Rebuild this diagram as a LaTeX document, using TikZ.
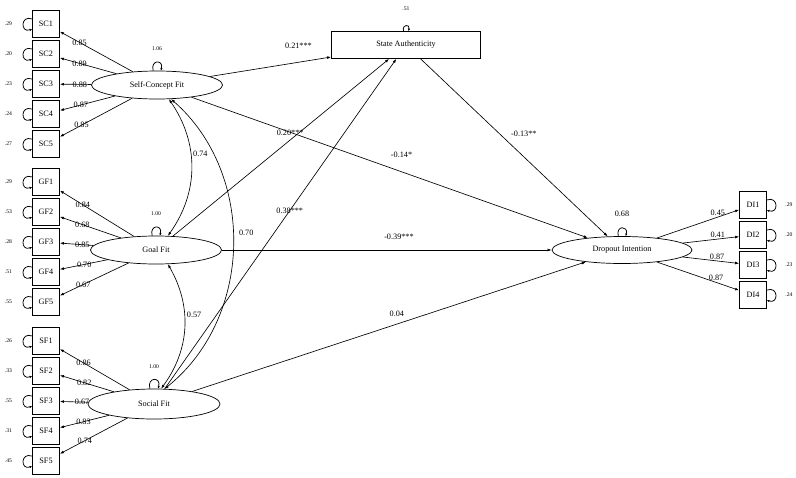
\documentclass[tikz,border=0pt]{standalone}
\usepackage{fontspec}
\setmainfont{Liberation Serif}
\usepackage{tikz}
\usetikzlibrary{positioning, shapes.geometric, arrows.meta}

\begin{document}
\begin{tikzpicture}[
            x=0.03cm, y=0.03cm,
            node distance=0.07cm,
            ind/.style={draw, line width=0.6pt, minimum width=0.81cm, minimum height=0.81cm, inner sep=0pt, font=\fontsize{7}{8}\selectfont},
            latent/.style={draw, ellipse, line width=0.6pt, minimum width=3.93cm, minimum height=0.84cm, inner sep=0pt, font=\fontsize{7}{8}\selectfont},
            sabox/.style={draw, line width=0.6pt, minimum width=4.47cm, minimum height=0.81cm, inner sep=0pt, font=\fontsize{7}{8}\selectfont},
            arrow/.style={-{Latex[length=3.5pt,width=2.4pt]}, line width=0.55pt},
            cov/.style={{Latex[length=3.5pt,width=2.4pt]}-{Latex[length=3.5pt,width=2.4pt]}, line width=0.55pt},
            resloop/.style={-{Latex[length=2.2pt,width=2pt]}, line width=0.65pt},
            lbl/.style={font=\fontsize{7}{8}\selectfont, inner sep=0pt},
            varlbl/.style={font=\fontsize{4.8}{5}\selectfont, inner sep=0pt}
        ]
            \useasboundingbox (0,0) rectangle (796,-477);

            \node[latent] (scf) at (157,-85) {Self-Concept Fit};
            \node[latent] (gf) at (156,-250) {Goal Fit};
            \node[latent, minimum width=3.96cm, minimum height=0.9cm] (sf) at (154,-404) {Social Fit};
            \node[sabox] (sa) at (406,-45) {State Authenticity};
            \node[latent, minimum width=4.2cm, minimum height=0.81cm] (di) at (622,-250) {Dropout Intention};

            \node[ind] (sc1) at (46,-24) {SC1};
            \node[ind, below=of sc1] (sc2) {SC2};
            \node[ind, below=of sc2] (sc3) {SC3};
            \node[ind, below=of sc3] (sc4) {SC4};
            \node[ind, below=of sc4] (sc5) {SC5};

            \node[ind] (gf1) at (46,-182) {GF1};
            \node[ind, below=of gf1] (gf2) {GF2};
            \node[ind, below=of gf2] (gf3) {GF3};
            \node[ind, below=of gf3] (gf4) {GF4};
            \node[ind, below=of gf4] (gf5) {GF5};

            \node[ind] (sf1) at (46,-341) {SF1};
            \node[ind, below=of sf1] (sf2) {SF2};
            \node[ind, below=of sf2] (sf3) {SF3};
            \node[ind, below=of sf3] (sf4) {SF4};
            \node[ind, below=of sf4] (sf5) {SF5};

            \node[ind] (di1) at (753,-205) {DI1};
            \node[ind, below=of di1] (di2) {DI2};
            \node[ind, below=of di2] (di3) {DI3};
            \node[ind, below=of di3] (di4) {DI4};

            \node[varlbl, left=0.6cm of sc1] (esc1) {.29};
            \node[varlbl, left=0.6cm of sc2] (esc2) {.20};
            \node[varlbl, left=0.6cm of sc3] (esc3) {.23};
            \node[varlbl, left=0.6cm of sc4] (esc4) {.24};
            \node[varlbl, left=0.6cm of sc5] (esc5) {.27};
            \node[varlbl, left=0.6cm of gf1] (egf1) {.29};
            \node[varlbl, left=0.6cm of gf2] (egf2) {.53};
            \node[varlbl, left=0.6cm of gf3] (egf3) {.28};
            \node[varlbl, left=0.6cm of gf4] (egf4) {.51};
            \node[varlbl, left=0.6cm of gf5] (egf5) {.55};
            \node[varlbl, left=0.6cm of sf1] (esf1) {.26};
            \node[varlbl, left=0.6cm of sf2] (esf2) {.33};
            \node[varlbl, left=0.6cm of sf3] (esf3) {.55};
            \node[varlbl, left=0.6cm of sf4] (esf4) {.31};
            \node[varlbl, left=0.6cm of sf5] (esf5) {.45};
            \node[varlbl, right=0.55cm of di1] (edi1) {.29};
            \node[varlbl, right=0.55cm of di2] (edi2) {.20};
            \node[varlbl, right=0.55cm of di3] (edi3) {.23};
            \node[varlbl, right=0.55cm of di4] (edi4) {.24};

            \node[varlbl, above=0.6cm of scf] (vscf) {1.06};
            \node[varlbl, above=0.6cm of gf] (vgf) {1.00};
            \node[varlbl, above=0.6cm of sf] (vsf) {1.00};
            \node[varlbl, above=0.6cm of sa] (vsa) {.51};
            \node[lbl, above=0.58cm of di] (vdi) {0.68};

            \draw[resloop] (sc1.160) to[out=160, in=200, looseness=3.2] (sc1.200);
            \draw[resloop] (sc2.160) to[out=160, in=200, looseness=3.2] (sc2.200);
            \draw[resloop] (sc3.160) to[out=160, in=200, looseness=3.2] (sc3.200);
            \draw[resloop] (sc4.160) to[out=160, in=200, looseness=3.2] (sc4.200);
            \draw[resloop] (sc5.160) to[out=160, in=200, looseness=3.2] (sc5.200);
            \draw[resloop] (gf1.160) to[out=160, in=200, looseness=3.2] (gf1.200);
            \draw[resloop] (gf2.160) to[out=160, in=200, looseness=3.2] (gf2.200);
            \draw[resloop] (gf3.160) to[out=160, in=200, looseness=3.2] (gf3.200);
            \draw[resloop] (gf4.160) to[out=160, in=200, looseness=3.2] (gf4.200);
            \draw[resloop] (gf5.160) to[out=160, in=200, looseness=3.2] (gf5.200);
            \draw[resloop] (sf1.160) to[out=160, in=200, looseness=3.2] (sf1.200);
            \draw[resloop] (sf2.160) to[out=160, in=200, looseness=3.2] (sf2.200);
            \draw[resloop] (sf3.160) to[out=160, in=200, looseness=3.2] (sf3.200);
            \draw[resloop] (sf4.160) to[out=160, in=200, looseness=3.2] (sf4.200);
            \draw[resloop] (sf5.160) to[out=160, in=200, looseness=3.2] (sf5.200);
            \draw[resloop] (di1.20) to[out=20, in=-20, looseness=3.2] (di1.-20);
            \draw[resloop] (di2.20) to[out=20, in=-20, looseness=3.2] (di2.-20);
            \draw[resloop] (di3.20) to[out=20, in=-20, looseness=3.2] (di3.-20);
            \draw[resloop] (di4.20) to[out=20, in=-20, looseness=3.2] (di4.-20);
            \draw[resloop] (scf.105) to[out=105, in=75, looseness=3.9] (scf.75);
            \draw[resloop] (gf.105) to[out=105, in=75, looseness=3.9] (gf.75);
            \draw[resloop] (sf.105) to[out=105, in=75, looseness=3.9] (sf.75);
            \draw[resloop] (sa.100) to[out=105, in=75, looseness=3.9] (sa.80);
            \draw[resloop] (di.105) to[out=105, in=75, looseness=3.9] (di.75);

            \draw[arrow] (scf) -- node[lbl, pos=0.73] {0.85} (sc1);
            \draw[arrow] (scf) -- node[lbl, pos=0.65] {0.89} (sc2);
            \draw[arrow] (scf) -- node[lbl, pos=0.36] {0.88} (sc3);
            \draw[arrow] (scf) -- node[lbl, pos=0.62] {0.87} (sc4);
            \draw[arrow] (scf) -- node[lbl, pos=0.70] {0.85} (sc5);

            \draw[arrow] (gf) -- node[lbl, pos=0.69] {0.84} (gf1);
            \draw[arrow] (gf) -- node[lbl, pos=0.63] {0.68} (gf2);
            \draw[arrow] (gf) -- node[lbl, pos=0.33] {0.85} (gf3);
            \draw[arrow] (gf) -- node[lbl, pos=0.49] {0.70} (gf4);
            \draw[arrow] (gf) -- node[lbl, pos=0.66] {0.67} (gf5);

            \draw[arrow] (sf) -- node[lbl, pos=0.66] {0.86} (sf1);
            \draw[arrow] (sf) -- node[lbl, pos=0.55] {0.82} (sf2);
            \draw[arrow] (sf) -- node[lbl, pos=0.21] {0.67} (sf3);
            \draw[arrow] (sf) -- node[lbl, pos=0.52] {0.83} (sf4);
            \draw[arrow] (sf) -- node[lbl, pos=0.63] {0.74} (sf5);

            \draw[arrow] (di) -- node[lbl, pos=0.74, above=1pt] {0.45} (di1);
            \draw[arrow] (di) -- node[lbl, pos=0.62, above=1pt] {0.41} (di2);
            \draw[arrow] (di) -- node[lbl, pos=0.61, above=1pt] {0.87} (di3);
            \draw[arrow] (di) -- node[lbl, pos=0.72, above=1pt] {0.87} (di4);

            \draw[arrow] (scf) -- node[lbl, pos=0.73, above=11pt] {0.21***} (sa);
            \draw[arrow] (gf) -- node[lbl, pos=0.58, xshift=-7pt] {0.20***} (sa);
            \draw[arrow] (sf) -- node[lbl, pos=0.54] {0.38***} (sa);
            \draw[arrow] (scf) -- node[lbl, pos=0.53, above=11.5pt] {-0.14*} (di);
            \draw[arrow] (sa) -- node[lbl, pos=0.42, right=10pt] {-0.13**} (di);
            \draw[arrow] (gf) -- node[lbl, pos=0.537, above=8.5pt] {-0.39***} (di);
            \draw[arrow] (sf) -- node[lbl, pos=0.52, above=6pt] {0.04} (di);

            \draw[cov] (scf.-50) to[bend left=35] node[lbl, pos=0.4, right=2pt] {0.74} (gf.50);
            \draw[cov] (scf.-45) to[bend left=50] node[lbl, pos=0.46, right=5pt] {0.70} (sf.55);
            \draw[cov] (gf.-50) to[bend left=33] node[lbl, pos=0.4, right=2pt] {0.57} (sf.65);
        \end{tikzpicture}
\end{document}
